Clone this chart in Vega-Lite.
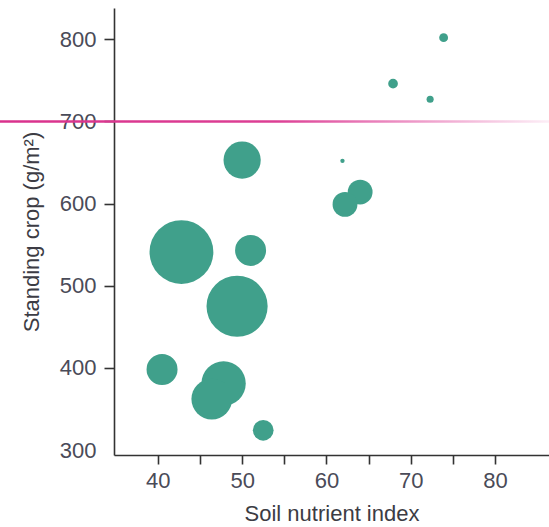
{
  "$schema": "https://vega.github.io/schema/vega-lite/v6.json",
  "width": 435,
  "height": 447,
  "autosize": {"type": "none"},
  "padding": {"left": 114, "top": 8, "right": 0, "bottom": 72},
  "background": "white",
  "config": {
    "view": {"stroke": null},
    "font": "Liberation Sans",
    "axis": {
      "labelFont": "Liberation Sans",
      "titleFont": "Liberation Sans",
      "labelFontSize": 22,
      "titleFontSize": 22,
      "titleFontWeight": "normal",
      "labelColor": "#4a4b58",
      "titleColor": "#3c3c44",
      "domainColor": "#333333",
      "tickColor": "#333333",
      "domainWidth": 1.6,
      "tickWidth": 1.6,
      "tickSize": 9,
      "grid": false
    }
  },
  "datasets": {
    "stands": [
      {"nutrient": 50.0, "crop": 653, "w": 441},
      {"nutrient": 42.8, "crop": 541, "w": 1296},
      {"nutrient": 51.0, "crop": 543, "w": 306},
      {"nutrient": 49.4, "crop": 475, "w": 1190},
      {"nutrient": 40.5, "crop": 398, "w": 306},
      {"nutrient": 47.8, "crop": 381, "w": 625},
      {"nutrient": 46.4, "crop": 362, "w": 529},
      {"nutrient": 52.5, "crop": 324, "w": 137},
      {"nutrient": 61.9, "crop": 652, "w": 6},
      {"nutrient": 64.0, "crop": 614, "w": 196},
      {"nutrient": 62.2, "crop": 599, "w": 196},
      {"nutrient": 67.9, "crop": 746, "w": 30},
      {"nutrient": 72.3, "crop": 727, "w": 16},
      {"nutrient": 73.9, "crop": 802, "w": 25}
    ],
    "threshold": [
      {"from": 21, "to": 87, "level": 700}
    ]
  },
  "layer": [
    {
      "data": {"name": "stands"},
      "mark": {"type": "circle", "color": "#40a08b", "opacity": 1},
      "encoding": {
        "x": {
          "field": "nutrient",
          "type": "quantitative",
          "scale": {"domain": [34.8, 86.4], "nice": false, "zero": false},
          "axis": {
            "title": "Soil nutrient index",
            "values": [40, 45, 50, 55, 60, 65, 70, 75, 80],
            "labelExpr": "datum.value % 10 === 0 ? datum.label : ''",
            "labelPadding": 6,
            "titlePadding": 12
          }
        },
        "y": {
          "field": "crop",
          "type": "quantitative",
          "scale": {"domain": [300, 832], "nice": false, "zero": false},
          "axis": {
            "title": "Standing crop (g/m²)",
            "values": [300, 400, 500, 600, 700, 800],
            "tickSize": 10,
            "tickOpacity": {"condition": {"test": "datum.value === 300", "value": 0}, "value": 1},
            "labelPadding": 8,
            "titlePadding": 16
          }
        },
        "size": {
          "field": "w",
          "type": "quantitative",
          "scale": {"type": "linear", "domain": [0, 1300], "range": [0, 4084]},
          "legend": null
        }
      }
    },
    {
      "data": {"name": "threshold"},
      "mark": {
        "type": "bar",
        "orient": "horizontal",
        "size": 2.6,
        "color": {
          "gradient": "linear",
          "x1": 0, "y1": 0, "x2": 1, "y2": 0,
          "stops": [
            {"offset": 0, "color": "#d9318c"},
            {"offset": 0.5, "color": "#dc3f94"},
            {"offset": 0.66, "color": "#e87ab7"},
            {"offset": 0.84, "color": "#f3b8d9"},
            {"offset": 1, "color": "#fdf1f8"}
          ]
        }
      },
      "encoding": {
        "x": {"field": "from", "type": "quantitative"},
        "x2": {"field": "to"},
        "y": {"field": "level", "type": "quantitative"}
      }
    }
  ]
}
